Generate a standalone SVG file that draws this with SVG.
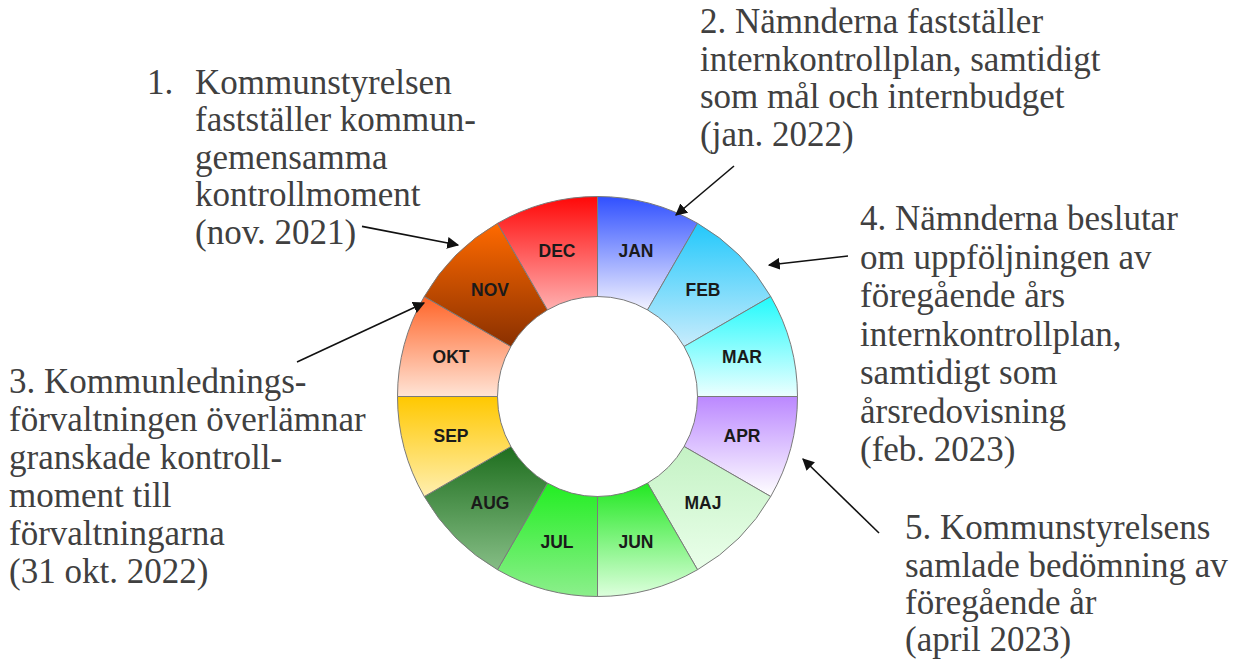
<svg xmlns="http://www.w3.org/2000/svg" width="1238" height="660" viewBox="0 0 1238 660">
<style>
.seg{stroke:#7a7a7a;stroke-width:1}
.mon{font-family:"Liberation Sans",Arial,sans-serif;font-weight:bold;font-size:17.5px;fill:#1a1a1a;text-anchor:middle}
.txt{font-family:"Liberation Serif","Times New Roman",serif;font-size:35px;fill:#404040}
.arr{stroke:#111;stroke-width:1.6;fill:none}
</style>
<defs>
<marker id="ah2" viewBox="0 0 10 10" refX="9" refY="5" markerWidth="12" markerHeight="12" markerUnits="userSpaceOnUse" orient="auto"><path d="M0,0 L10,5 L0,10 z" fill="#111"/></marker>
<linearGradient id="gJAN" x1="0" y1="0" x2="0" y2="1"><stop offset="0" stop-color="#3050ff"/><stop offset="1" stop-color="#f2f2ff"/></linearGradient>
<linearGradient id="gFEB" x1="0" y1="0" x2="0" y2="1"><stop offset="0" stop-color="#22c8fb"/><stop offset="1" stop-color="#c8ecfc"/></linearGradient>
<linearGradient id="gMAR" x1="0" y1="0" x2="0" y2="1"><stop offset="0" stop-color="#22fafc"/><stop offset="1" stop-color="#ecffff"/></linearGradient>
<linearGradient id="gAPR" x1="0" y1="0" x2="0" y2="1"><stop offset="0" stop-color="#bb88ff"/><stop offset="1" stop-color="#ffffff"/></linearGradient>
<linearGradient id="gMAJ" x1="0" y1="0" x2="0" y2="1"><stop offset="0" stop-color="#c4f2c4"/><stop offset="1" stop-color="#eaffea"/></linearGradient>
<linearGradient id="gJUN" x1="0" y1="0" x2="0" y2="1"><stop offset="0" stop-color="#22e822"/><stop offset="1" stop-color="#ddffdd"/></linearGradient>
<linearGradient id="gJUL" x1="0" y1="0" x2="0" y2="1"><stop offset="0" stop-color="#22ee22"/><stop offset="1" stop-color="#8cef8c"/></linearGradient>
<linearGradient id="gAUG" x1="0" y1="0" x2="0" y2="1"><stop offset="0" stop-color="#1e6e1e"/><stop offset="1" stop-color="#85bd85"/></linearGradient>
<linearGradient id="gSEP" x1="0" y1="0" x2="0" y2="1"><stop offset="0" stop-color="#ffc800"/><stop offset="1" stop-color="#ffefb0"/></linearGradient>
<linearGradient id="gOKT" x1="0" y1="0" x2="0" y2="1"><stop offset="0" stop-color="#ff6428"/><stop offset="1" stop-color="#ffe4d6"/></linearGradient>
<linearGradient id="gNOV" x1="0" y1="0" x2="0" y2="1"><stop offset="0" stop-color="#ff6a00"/><stop offset="1" stop-color="#8a3000"/></linearGradient>
<linearGradient id="gDEC" x1="0" y1="0" x2="0" y2="1"><stop offset="0" stop-color="#ff0808"/><stop offset="1" stop-color="#ffb0b0"/></linearGradient>
</defs>
<rect width="1238" height="660" fill="#ffffff"/>

<g id="wheel">
<g id="jan"><path class="seg" fill="url(#gJAN)" d="M597.5,196.5 A200,200 0 0 1 697.5,223.295 L647.5,309.897 A100,100 0 0 0 597.5,296.5 Z"/><text class="mon" x="636" y="257">JAN</text></g>
<g id="feb"><path class="seg" fill="url(#gFEB)" d="M697.5,223.295 A200,200 0 0 1 770.705,296.5 L684.103,346.5 A100,100 0 0 0 647.5,309.897 Z"/><text class="mon" x="703" y="296">FEB</text></g>
<g id="mar"><path class="seg" fill="url(#gMAR)" d="M770.705,296.5 A200,200 0 0 1 797.5,396.5 L697.5,396.5 A100,100 0 0 0 684.103,346.5 Z"/><text class="mon" x="742" y="363">MAR</text></g>
<g id="apr"><path class="seg" fill="url(#gAPR)" d="M797.5,396.5 A200,200 0 0 1 770.705,496.5 L684.103,446.5 A100,100 0 0 0 697.5,396.5 Z"/><text class="mon" x="742" y="442">APR</text></g>
<g id="maj"><path class="seg" fill="url(#gMAJ)" d="M770.705,496.5 A200,200 0 0 1 697.5,569.705 L647.5,483.103 A100,100 0 0 0 684.103,446.5 Z"/><text class="mon" x="703" y="509">MAJ</text></g>
<g id="jun"><path class="seg" fill="url(#gJUN)" d="M697.5,569.705 A200,200 0 0 1 597.5,596.5 L597.5,496.5 A100,100 0 0 0 647.5,483.103 Z"/><text class="mon" x="636" y="548">JUN</text></g>
<g id="jul"><path class="seg" fill="url(#gJUL)" d="M597.5,596.5 A200,200 0 0 1 497.5,569.705 L547.5,483.103 A100,100 0 0 0 597.5,496.5 Z"/><text class="mon" x="557" y="548">JUL</text></g>
<g id="aug"><path class="seg" fill="url(#gAUG)" d="M497.5,569.705 A200,200 0 0 1 424.295,496.5 L510.897,446.5 A100,100 0 0 0 547.5,483.103 Z"/><text class="mon" x="490" y="509">AUG</text></g>
<g id="sep"><path class="seg" fill="url(#gSEP)" d="M424.295,496.5 A200,200 0 0 1 397.5,396.5 L497.5,396.5 A100,100 0 0 0 510.897,446.5 Z"/><text class="mon" x="451" y="442">SEP</text></g>
<g id="okt"><path class="seg" fill="url(#gOKT)" d="M397.5,396.5 A200,200 0 0 1 424.295,296.5 L510.897,346.5 A100,100 0 0 0 497.5,396.5 Z"/><text class="mon" x="451" y="363">OKT</text></g>
<g id="nov"><path class="seg" fill="url(#gNOV)" d="M424.295,296.5 A200,200 0 0 1 497.5,223.295 L547.5,309.897 A100,100 0 0 0 510.897,346.5 Z"/><text class="mon" x="490" y="296">NOV</text></g>
<g id="dec"><path class="seg" fill="url(#gDEC)" d="M497.5,223.295 A200,200 0 0 1 597.5,196.5 L597.5,296.5 A100,100 0 0 0 547.5,309.897 Z"/><text class="mon" x="557" y="257">DEC</text></g>
</g>

<g id="note1" class="txt">
<text x="147" y="93.5">1.</text>
<text x="195" y="93.5">Kommunstyrelsen</text>
<text x="195" y="131">fastställer kommun-</text>
<text x="195" y="168.5">gemensamma</text>
<text x="195" y="206">kontrollmoment</text>
<text x="195" y="243.5">(nov. 2021)</text>
</g>
<g id="note2" class="txt">
<text x="700" y="33">2. Nämnderna fastställer</text>
<text x="700" y="70.5">internkontrollplan, samtidigt</text>
<text x="700" y="108">som mål och internbudget</text>
<text x="700" y="145.5">(jan. 2022)</text>
</g>
<g id="note3" class="txt">
<text x="9" y="393">3. Kommunlednings-</text>
<text x="9" y="431">förvaltningen överlämnar</text>
<text x="9" y="469">granskade kontroll-</text>
<text x="9" y="507">moment till</text>
<text x="9" y="545">förvaltningarna</text>
<text x="9" y="583">(31 okt. 2022)</text>
</g>
<g id="note4" class="txt">
<text x="860" y="230">4. Nämnderna beslutar</text>
<text x="860" y="268.5">om uppföljningen av</text>
<text x="860" y="307">föregående års</text>
<text x="860" y="345.5">internkontrollplan,</text>
<text x="860" y="384">samtidigt som</text>
<text x="860" y="422.5">årsredovisning</text>
<text x="860" y="461">(feb. 2023)</text>
</g>
<g id="note5" class="txt">
<text x="905" y="539">5. Kommunstyrelsens</text>
<text x="905" y="576.5">samlade bedömning av</text>
<text x="905" y="614">föregående år</text>
<text x="905" y="651">(april 2023)</text>
</g>

<g id="connectors">
<line class="arr" marker-end="url(#ah2)" x1="362" y1="226.4" x2="458" y2="245"/>
<line class="arr" marker-end="url(#ah2)" x1="734" y1="166" x2="676" y2="215"/>
<line class="arr" marker-end="url(#ah2)" x1="297" y1="362" x2="424" y2="303"/>
<line class="arr" marker-end="url(#ah2)" x1="848" y1="256" x2="769" y2="265"/>
<line class="arr" marker-end="url(#ah2)" x1="879" y1="533" x2="803" y2="459"/>
</g>
</svg>
